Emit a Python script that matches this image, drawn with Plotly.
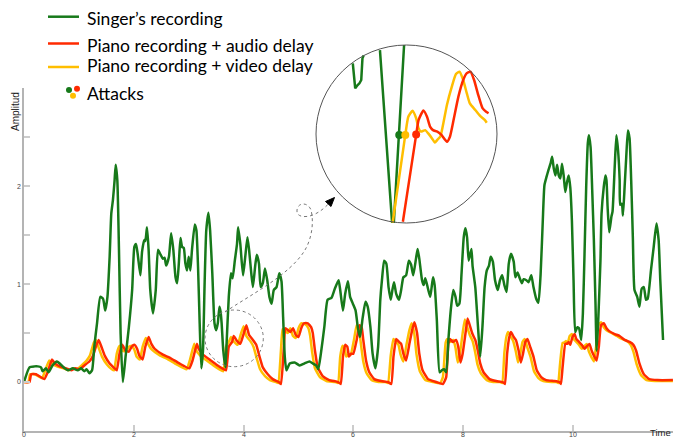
import plotly.graph_objects as go

# ---------------- data ----------------
singer_t = [0.00,0.10,0.19,0.25,0.31,0.34,0.40,0.45,0.52,0.60,0.65,0.74,0.80,0.89,0.98,1.04,1.10,1.14,1.19,1.24,
            1.28,1.33,1.39,1.44,1.48,1.52,1.56,1.59,1.62,1.65,1.67,1.70,1.73,1.76,1.80,1.85,1.91,1.97,2.01,2.04,
            2.07,2.12,2.15,2.19,2.21,2.24,2.27,2.30,2.35,2.40,2.44,2.48,2.53,2.56,2.59,2.64,2.68,2.72,2.76,2.79,
            2.82,2.85,2.88,2.91,2.94,2.97,3.00,3.03,3.06,3.11,3.14,3.17,3.20,3.23,3.26,3.29,3.32,3.36,3.39,3.43,
            3.47,3.50,3.53,3.56,3.58,3.60,3.63,3.67,3.69,3.73,3.77,3.80,3.84,3.88,3.90,3.94,3.99,4.03,4.07,4.10,
            4.14,4.17,4.21,4.24,4.28,4.31,4.35,4.39,4.43,4.47,4.51,4.55,4.60,4.65,4.69,4.72,4.75,4.78,4.84,4.93,
            5.02,5.11,5.20,5.26,5.32,5.36,5.41,5.47,5.53,5.60,5.66,5.73,5.76,5.81,5.85,5.90,5.94,5.99,6.04,6.08,
            6.12,6.17,6.22,6.26,6.31,6.35,6.40,6.45,6.49,6.52,6.56,6.60,6.64,6.68,6.71,6.74,6.78,6.83,6.87,6.91,
            6.96,7.01,7.05,7.09,7.14,7.17,7.20,7.25,7.28,7.31,7.36,7.40,7.45,7.48,7.52,7.57,7.61,7.65,7.69,7.73,
            7.78,7.82,7.86,7.89,7.93,7.97,8.01,8.04,8.07,8.10,8.15,8.17,8.22,8.27,8.31,8.35,8.39,8.43,8.47,8.50,
            8.54,8.58,8.63,8.67,8.71,8.75,8.79,8.83,8.87,8.92,8.95,8.99,9.03,9.07,9.10,9.15,9.19,9.24,9.28,9.33,
            9.37,9.41,9.45,9.48,9.52,9.55,9.59,9.62,9.65,9.68,9.71,9.74,9.77,9.80,9.83,9.86,9.89,9.92,9.95,9.98,
            10.01,10.04,10.08,10.11,10.15,10.18,10.21,10.24,10.27,10.29,10.32,10.35,10.38,10.41,10.43,10.46,10.50,10.52,10.56,10.59,
            10.61,10.63,10.66,10.70,10.72,10.76,10.79,10.82,10.85,10.86,10.89,10.91,10.94,10.97,11.00,11.03,11.06,11.09,11.12,11.17,
            11.21,11.25,11.29,11.33,11.36,11.42,11.47,11.52,11.56,11.59,11.64]
singer_v = [0.00,0.15,0.16,0.16,0.15,0.11,0.14,0.10,0.17,0.21,0.19,0.14,0.12,0.14,0.12,0.14,0.11,0.13,0.09,0.12,
            0.36,0.60,0.87,0.85,0.73,0.87,1.28,1.72,1.86,2.06,2.22,2.06,1.35,0.49,0.00,0.26,0.56,0.94,1.38,1.41,
            1.31,1.09,1.33,1.45,1.44,1.58,1.35,0.94,0.70,0.94,1.35,1.31,1.26,1.27,1.19,1.28,1.52,1.35,1.07,1.01,
            1.21,1.47,1.38,1.37,1.21,1.14,1.28,1.14,1.35,1.61,1.55,1.18,0.60,0.14,0.32,1.01,1.55,1.73,1.55,1.11,
            0.60,0.53,0.60,0.77,0.72,0.60,0.32,0.15,0.39,0.87,1.11,1.06,1.24,1.41,1.58,1.41,1.09,1.28,1.48,1.35,
            1.11,0.97,1.18,1.30,1.21,0.97,1.01,1.16,1.04,0.87,0.80,0.94,0.97,1.11,1.03,0.66,0.26,0.12,0.19,0.20,
            0.17,0.19,0.21,0.19,0.17,0.13,0.30,0.56,0.84,0.86,0.95,1.04,0.94,0.73,0.90,1.03,0.87,0.80,0.73,0.56,
            0.46,0.66,0.82,0.77,0.56,0.29,0.14,0.36,0.84,1.04,1.24,1.21,0.97,0.84,0.94,1.02,0.90,0.84,0.94,1.07,
            1.09,1.24,1.20,1.09,1.26,1.36,1.26,1.04,0.99,1.06,0.95,0.87,1.07,0.99,0.63,0.10,0.12,0.13,0.10,0.43,
            0.77,0.94,0.87,0.78,0.80,1.11,1.48,1.57,1.48,1.24,1.36,1.19,0.97,0.56,0.26,0.56,0.97,1.14,1.19,1.28,
            1.23,1.04,0.94,1.04,1.09,0.99,0.92,1.21,1.31,1.23,1.07,1.12,1.06,1.01,1.05,1.04,1.02,1.09,0.97,0.85,
            0.81,1.10,1.65,2.01,2.10,2.16,2.23,2.30,2.18,2.11,2.22,2.11,2.08,2.23,2.11,1.94,2.04,2.11,1.99,1.65,
            1.04,0.51,0.56,0.55,0.43,0.70,1.31,1.99,2.44,2.52,2.40,1.96,1.45,0.80,0.32,0.63,1.24,1.72,1.99,2.11,
            2.06,1.79,1.53,1.69,1.74,2.20,2.52,2.37,2.06,1.81,1.82,1.70,1.99,2.30,2.57,2.49,2.06,1.48,0.94,0.87,
            0.77,0.95,0.97,0.84,0.85,1.14,1.38,1.62,1.45,1.04,0.43]

audio_t = [0.00,0.10,0.13,0.22,0.37,0.43,0.51,0.56,0.65,0.77,0.86,0.94,1.01,1.10,1.19,1.25,1.32,1.36,1.41,1.47,
           1.56,1.65,1.69,1.74,1.79,1.85,1.91,1.96,2.01,2.06,2.10,2.16,2.21,2.27,2.32,2.38,2.53,2.65,2.83,3.01,
           3.07,3.15,3.18,3.26,3.38,3.50,3.61,3.68,3.73,3.79,3.82,3.88,3.94,4.00,4.05,4.10,4.17,4.23,4.29,4.35,
           4.44,4.53,4.64,4.68,4.73,4.76,4.81,4.85,4.90,4.95,5.00,5.05,5.10,5.17,5.23,5.26,5.30,5.35,5.44,5.56,
           5.72,5.77,5.81,5.85,5.89,5.92,5.96,6.00,6.06,6.11,6.15,6.18,6.23,6.29,6.38,6.51,6.63,6.69,6.73,6.78,
           6.83,6.87,6.91,6.96,7.02,7.07,7.11,7.16,7.20,7.26,7.36,7.51,7.63,7.69,7.73,7.76,7.81,7.87,7.91,7.95,
           7.99,8.04,8.08,8.13,8.17,8.22,8.27,8.31,8.37,8.48,8.60,8.72,8.76,8.80,8.84,8.87,8.92,8.96,9.01,9.05,
           9.09,9.13,9.17,9.22,9.28,9.34,9.42,9.51,9.66,9.75,9.78,9.81,9.86,9.89,9.92,9.95,9.99,10.03,10.06,10.11,
           10.16,10.21,10.26,10.30,10.34,10.39,10.43,10.47,10.51,10.56,10.61,10.66,10.76,10.85,10.94,11.03,11.10,11.15,11.21,11.29,
           11.39,11.54,11.82]
audio_v = [0.00,0.00,0.08,0.08,0.03,0.10,0.23,0.19,0.16,0.14,0.12,0.14,0.13,0.17,0.21,0.26,0.38,0.43,0.36,0.27,
           0.19,0.14,0.12,0.29,0.38,0.32,0.31,0.36,0.38,0.34,0.27,0.23,0.36,0.46,0.39,0.34,0.28,0.25,0.19,0.14,
           0.22,0.39,0.34,0.28,0.23,0.18,0.14,0.12,0.36,0.41,0.47,0.42,0.39,0.49,0.58,0.48,0.43,0.38,0.26,0.15,
           0.08,0.03,0.00,-0.02,0.32,0.55,0.53,0.51,0.55,0.48,0.46,0.55,0.60,0.60,0.56,0.50,0.32,0.15,0.06,0.02,
           0.00,-0.02,0.26,0.38,0.36,0.26,0.29,0.29,0.43,0.58,0.56,0.43,0.22,0.10,0.03,0.01,0.00,-0.02,0.26,0.44,
           0.41,0.39,0.29,0.22,0.39,0.53,0.61,0.50,0.29,0.12,0.03,0.00,-0.02,0.05,0.39,0.44,0.41,0.43,0.36,0.20,
           0.29,0.49,0.65,0.56,0.49,0.43,0.31,0.19,0.10,0.03,0.01,0.00,-0.02,0.29,0.46,0.51,0.46,0.43,0.32,0.20,
           0.29,0.41,0.44,0.36,0.26,0.12,0.05,0.02,0.01,0.00,-0.02,0.15,0.39,0.39,0.41,0.38,0.46,0.49,0.44,0.41,
           0.38,0.34,0.37,0.39,0.32,0.26,0.22,0.36,0.58,0.60,0.55,0.52,0.49,0.47,0.43,0.41,0.38,0.32,0.19,0.08,
           0.03,0.02,0.02]

video_t = [0.00,0.08,0.11,0.20,0.33,0.38,0.46,0.51,0.60,0.72,0.82,0.90,0.97,1.05,1.14,1.20,1.27,1.31,1.36,1.42,
           1.51,1.60,1.64,1.69,1.74,1.80,1.86,1.91,1.96,2.01,2.05,2.11,2.16,2.22,2.27,2.33,2.48,2.60,2.78,2.96,
           3.02,3.10,3.13,3.21,3.33,3.45,3.56,3.63,3.68,3.74,3.77,3.83,3.89,3.95,4.00,4.05,4.12,4.18,4.24,4.30,
           4.39,4.48,4.59,4.63,4.68,4.71,4.76,4.80,4.85,4.90,4.95,5.00,5.05,5.12,5.18,5.21,5.25,5.30,5.39,5.51,
           5.67,5.72,5.76,5.80,5.84,5.87,5.91,5.95,6.01,6.06,6.10,6.13,6.18,6.24,6.33,6.46,6.58,6.63,6.68,6.73,
           6.78,6.82,6.86,6.91,6.97,7.02,7.06,7.11,7.15,7.21,7.31,7.46,7.58,7.63,7.68,7.71,7.76,7.82,7.86,7.90,
           7.94,7.99,8.03,8.08,8.12,8.17,8.22,8.26,8.32,8.43,8.55,8.67,8.71,8.75,8.79,8.82,8.87,8.91,8.96,9.00,
           9.04,9.08,9.12,9.17,9.23,9.29,9.37,9.46,9.61,9.70,9.73,9.76,9.81,9.84,9.87,9.90,9.94,9.98,10.01,10.06,
           10.11,10.16,10.21,10.25,10.29,10.34,10.38,10.42,10.46,10.51,10.56,10.61,10.71,10.80,10.89,10.98,11.05,11.10,11.16,11.24,
           11.34,11.49,11.82]
video_v = [0.00,0.00,0.08,0.08,0.04,0.11,0.22,0.19,0.16,0.14,0.12,0.14,0.13,0.17,0.22,0.27,0.40,0.43,0.35,0.26,
           0.18,0.13,0.12,0.29,0.37,0.32,0.31,0.36,0.37,0.33,0.26,0.23,0.36,0.45,0.38,0.33,0.27,0.24,0.18,0.13,
           0.22,0.39,0.33,0.27,0.22,0.17,0.13,0.11,0.36,0.42,0.46,0.41,0.38,0.49,0.57,0.47,0.42,0.36,0.24,0.13,
           0.06,0.02,0.00,-0.01,0.32,0.54,0.52,0.50,0.55,0.47,0.45,0.55,0.60,0.59,0.55,0.48,0.30,0.14,0.05,0.01,
           0.00,-0.01,0.26,0.37,0.35,0.26,0.28,0.28,0.43,0.58,0.55,0.42,0.21,0.09,0.02,0.00,0.00,-0.01,0.27,0.44,
           0.41,0.38,0.28,0.21,0.39,0.53,0.60,0.49,0.28,0.11,0.02,0.00,-0.01,0.05,0.40,0.44,0.41,0.43,0.35,0.20,
           0.29,0.50,0.64,0.55,0.48,0.42,0.30,0.18,0.09,0.02,0.00,0.00,-0.01,0.30,0.47,0.51,0.46,0.42,0.31,0.20,
           0.29,0.41,0.44,0.35,0.25,0.11,0.04,0.01,0.00,0.00,-0.01,0.16,0.40,0.40,0.42,0.39,0.47,0.49,0.44,0.41,
           0.38,0.34,0.37,0.39,0.31,0.25,0.21,0.36,0.58,0.61,0.56,0.53,0.50,0.47,0.44,0.42,0.38,0.31,0.18,0.07,
           0.02,0.01,0.01]

# zoomed detail (inset) around the attack near t = 3.7 s
zoom_singer_t = [3.661,3.665,3.669,3.672,3.675,3.677,3.679,None,3.706,3.726,3.729,3.738,3.746]
zoom_singer_v = [0.588,0.504,0.515,0.521,0.532,0.605,0.615,None,0.633,0.054,0.051,0.347,0.650]
zoom_video_t = [3.727,3.748,3.753,3.760,3.766,3.770,3.774,3.781,3.786,3.792,3.797,3.801,3.806,3.810,3.817,3.825,
                3.832,3.838,3.844,3.850,3.855,3.864,3.872,3.880,3.883]
zoom_video_v = [0.051,0.347,0.408,0.428,0.403,0.369,0.358,0.363,0.352,0.336,0.321,0.330,0.341,0.375,0.448,0.509,
                0.552,0.560,0.532,0.487,0.453,0.431,0.411,0.397,0.388]
zoom_audio_t = [3.744,3.766,3.770,3.778,3.784,3.789,3.794,3.801,3.808,3.817,3.822,3.828,3.836,3.844,3.850,3.856,
                3.862,3.869,3.876,3.882,3.886]
zoom_audio_v = [0.054,0.347,0.397,0.429,0.408,0.375,0.363,0.358,0.347,0.324,0.341,0.397,0.476,0.532,0.555,0.560,
                0.532,0.481,0.437,0.425,0.420]
attack_t = [3.738, 3.748, 3.766]
attack_v = [0.347, 0.347, 0.348]

legend_labels = ["Singer’s recording", "Piano recording + audio delay", "Piano recording + video delay", "Attacks"]
y_tickvals = [0, 0.5, 1, 1.5, 2, 2.5]
y_ticktext = ["0", "", "1", "", "2", ""]
x_tickvals = [0, 2, 4, 6, 8, 10]
x_ticktext = ["0", "2", "4", "6", "8", "10"]

GREEN = "#17791a"
RED = "#ff2a00"
YELLOW = "#ffbe00"

# ---------------- layout geometry (pixels) ----------------
W, H = 673, 439
ML, MR, MT, MB = 24, 0, 0, 8
PW, PH = W - ML - MR, H - MT - MB
Y_TOP_PX = 88.3            # pixel row of the top of the y axis
YDOM = (PH - Y_TOP_PX) / PH


def pap(px, py):
    return (px - ML) / PW, (PH - py) / PH


fig = go.Figure()
fig.add_trace(go.Scatter(x=video_t, y=video_v, mode="lines", line=dict(color=YELLOW, width=2.5, shape="spline", smoothing=0.4),
                         showlegend=False, hoverinfo="skip"))
fig.add_trace(go.Scatter(x=audio_t, y=audio_v, mode="lines", line=dict(color=RED, width=2.5, shape="spline", smoothing=0.4),
                         showlegend=False, hoverinfo="skip"))
fig.add_trace(go.Scatter(x=singer_t, y=singer_v, mode="lines", line=dict(color=GREEN, width=2.5, shape="spline", smoothing=0.5),
                         showlegend=False, hoverinfo="skip"))

# inset traces
fig.add_trace(go.Scatter(x=zoom_singer_t, y=zoom_singer_v, mode="lines", line=dict(color=GREEN, width=2.5),
                         xaxis="x2", yaxis="y2", showlegend=False, connectgaps=False, hoverinfo="skip"))
fig.add_trace(go.Scatter(x=zoom_video_t, y=zoom_video_v, mode="lines", line=dict(color=YELLOW, width=2.5, shape="spline", smoothing=0.5),
                         xaxis="x2", yaxis="y2", showlegend=False, hoverinfo="skip"))
fig.add_trace(go.Scatter(x=zoom_audio_t, y=zoom_audio_v, mode="lines", line=dict(color=RED, width=2.5, shape="spline", smoothing=0.5),
                         xaxis="x2", yaxis="y2", showlegend=False, hoverinfo="skip"))
fig.add_trace(go.Scatter(x=attack_t, y=attack_v, mode="markers", marker=dict(color=[GREEN, YELLOW, RED], size=8),
                         xaxis="x2", yaxis="y2", showlegend=False, hoverinfo="skip"))

shapes = []
annotations = []

# inset circle
cx0, cy0 = pap(316, 223)
cx1, cy1 = pap(497, 45)
shapes.append(dict(type="circle", xref="paper", yref="paper", x0=cx0, y0=cy0, x1=cx1, y1=cy1,
                   line=dict(color="#555555", width=1)))

# dashed ellipse around attack region
ex0, ey0 = pap(205, 366.7)
ex1, ey1 = pap(263.3, 310)
shapes.append(dict(type="circle", xref="paper", yref="paper", x0=ex0, y0=ey0, x1=ex1, y1=ey1,
                   line=dict(color="#777777", width=1, dash="dot")))


def P(px, py):
    a, b = pap(px, py)
    return f"{a:.5f},{b:.5f}"


curve = (f"M {P(225,312)} C {P(250,295)} {P(290,275)} {P(305,250)} "
         f"C {P(312,238)} {P(314,222)} {P(311,210)} "
         f"C {P(308,202)} {P(298,202)} {P(297,210)} "
         f"C {P(296,217)} {P(305,218)} {P(313,215)} "
         f"C {P(320,212)} {P(326,207)} {P(330,202)}")
shapes.append(dict(type="path", xref="paper", yref="paper", path=curve,
                   line=dict(color="#777777", width=1, dash="dot")))
head = f"M {P(334.5,197.5)} L {P(325.5,201.5)} L {P(331,206.5)} Z"
shapes.append(dict(type="path", xref="paper", yref="paper", path=head,
                   fillcolor="black", line=dict(color="black", width=1)))

# legend
leg_rows = [(16.7, GREEN, 18), (43.5, RED, 45.5), (67.0, YELLOW, 65.5)]
for i, (ly, col, ty) in enumerate(leg_rows):
    a0, b0 = pap(48, ly)
    a1, b1 = pap(79, ly)
    shapes.append(dict(type="line", xref="paper", yref="paper", x0=a0, y0=b0, x1=a1, y1=b1,
                       line=dict(color=col, width=2.5)))
    tx, tyy = pap(85, ty)
    annotations.append(dict(xref="paper", yref="paper", x=tx, y=tyy, xanchor="left", yanchor="middle",
                            text=legend_labels[i], showarrow=False,
                            font=dict(family="Lato", size=17.5, color="black")))
for (dxp, dyp, col) in [(69, 90, GREEN), (77, 88.7, RED), (73, 95.7, YELLOW)]:
    a0, b0 = pap(dxp - 3, dyp + 3)
    a1, b1 = pap(dxp + 3, dyp - 3)
    shapes.append(dict(type="circle", xref="paper", yref="paper", x0=a0, y0=b0, x1=a1, y1=b1,
                       fillcolor=col, line=dict(color=col, width=0)))
tx, tyy = pap(85, 93)
annotations.append(dict(xref="paper", yref="paper", x=tx, y=tyy, xanchor="left", yanchor="middle",
                        text=legend_labels[3], showarrow=False,
                        font=dict(family="Lato", size=17.5, color="black")))

# x tick labels (placed as text just under the axis)
_, tick_y = pap(0, 434.5)
for v, s in zip(x_tickvals, x_ticktext):
    annotations.append(dict(xref="x", yref="paper", x=v, y=tick_y, text=s, showarrow=False,
                            xanchor="center", yanchor="middle",
                            font=dict(family="Liberation Sans", size=7, color="#444")))

# axis titles
ax_, ay_ = pap(15, 112)
annotations.append(dict(xref="paper", yref="paper", x=ax_, y=ay_, text="Amplitud", textangle=-90,
                        showarrow=False, xanchor="center", yanchor="middle",
                        font=dict(family="Liberation Sans", size=10, color="#222")))
tx_, ty_ = pap(672, 439)
annotations.append(dict(xref="paper", yref="paper", x=tx_, y=ty_, text="Time", showarrow=False,
                        xanchor="right", yanchor="bottom", borderpad=0,
                        font=dict(family="Liberation Sans", size=9.5, color="#222")))

ix0, iy0 = pap(316, 223)
ix1, iy1 = pap(497, 45)

fig.update_layout(
    width=W, height=H,
    margin=dict(l=ML, r=MR, t=MT, b=MB, pad=0, autoexpand=False),
    paper_bgcolor="white", plot_bgcolor="white",
    showlegend=False,
    xaxis=dict(range=[0, PW / 54.9], showgrid=False, zeroline=False, showline=True, linecolor="#b4b4b4",
               linewidth=1.5, ticks="inside", ticklen=6, tickwidth=1.5, tickcolor="#cccccc",
               tickvals=x_tickvals, showticklabels=False,
               anchor="y", fixedrange=True, automargin=False),
    yaxis=dict(range=[-0.5, 3.0], domain=[0, YDOM], showgrid=False, zeroline=False, showline=True,
               linecolor="#b4b4b4", linewidth=1.5, ticks="inside", ticklen=6, tickwidth=1.5,
               tickcolor="#cccccc", tickvals=y_tickvals, ticktext=y_ticktext,
               tickfont=dict(family="Liberation Sans", size=7, color="#444"), anchor="x", fixedrange=True,
               automargin=False),
    xaxis2=dict(domain=[ix0, ix1], range=[3.60, 3.90], visible=False, anchor="y2", fixedrange=True),
    yaxis2=dict(domain=[iy0, iy1], range=[0.05, 0.65], visible=False, anchor="x2", fixedrange=True),
    shapes=shapes,
    annotations=annotations,
)

fig.write_html("out.html", config={"displayModeBar": False},
               post_script="document.body.style.margin='0';document.body.style.padding='0';document.body.style.overflow='hidden';")
